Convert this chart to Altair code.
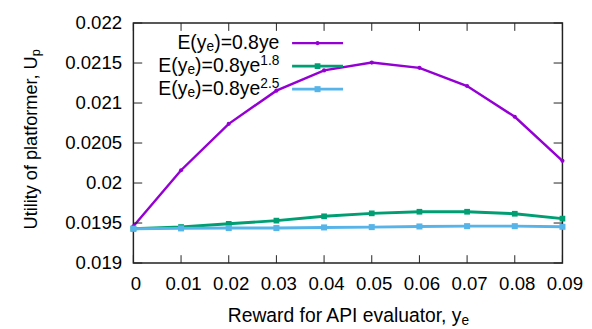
import altair as alt
import pandas as pd

# ---- data ----
x_vals = [0, 0.01, 0.02, 0.03, 0.04, 0.05, 0.06, 0.07, 0.08, 0.09]
u_linear = [0.01946, 0.02016, 0.02074, 0.021155, 0.021408, 0.021506, 0.02144, 0.021213, 0.020828, 0.020277]
u_pow18 = [0.019429, 0.01945, 0.01949, 0.01953, 0.019584, 0.019621, 0.019641, 0.019641, 0.019616, 0.019555]
u_pow25 = [0.019429, 0.019433, 0.019437, 0.019437, 0.019445, 0.019449, 0.019457, 0.019461, 0.019461, 0.019453]
series_names = ["0.8ye", "0.8ye^1.8", "0.8ye^2.5"]
series_colors = ["#9400D3", "#009E73", "#56B4E9"]
series_shapes = ["circle", "square", "square"]
series_sizes = [18, 34, 38]
series_widths = [2.5, 3, 3]
legend_sup = ["", "1.8", "2.5"]
x_ticks = [0, 0.01, 0.02, 0.03, 0.04, 0.05, 0.06, 0.07, 0.08, 0.09]
y_ticks = [0.019, 0.0195, 0.02, 0.0205, 0.021, 0.0215, 0.022]

W, H = 438, 245
FONT = "Liberation Sans"
FS = 19.8      # legend main text size
FSS = 14       # sub/superscript size

rows = []
for name, vals in zip(series_names, [u_linear, u_pow18, u_pow25]):
    for xv, yv in zip(x_vals, vals):
        rows.append({"series": name, "x": xv, "u": yv})
df = pd.DataFrame(rows)

xscale = alt.Scale(domain=[0, 0.09], nice=False, zero=False)
yscale = alt.Scale(domain=[0.019, 0.022], nice=False, zero=False)
axis_common = dict(ticks=False, domain=False, grid=False, labelFont=FONT,
                   labelFontSize=19, labelColor="#000", labelPadding=12,
                   labelFlush=False, labelOverlap=False, title=None)
x_axis = alt.Axis(values=x_ticks, format="~g", labelOffset=2, **axis_common)
y_axis = alt.Axis(values=y_ticks, format="~g", **axis_common)
x_enc = alt.X("x:Q", scale=xscale, axis=x_axis)
y_enc = alt.Y("u:Q", scale=yscale, axis=y_axis)

layers = []
for name, col, shp, sz, lw in zip(series_names, series_colors, series_shapes, series_sizes, series_widths):
    sub = alt.Chart(df).transform_filter(alt.datum.series == name)
    layers.append(sub.mark_line(color=col, strokeWidth=lw).encode(x=x_enc, y=y_enc))
    layers.append(sub.mark_point(color=col, shape=shp, filled=True, size=sz, opacity=1).encode(x=x_enc, y=y_enc))

# inward ticks on all four sides
xt = pd.DataFrame({"x": x_ticks})
yt = pd.DataFrame({"u": y_ticks})
tick_col = "#222"
layers.append(alt.Chart(yt).mark_rule(color=tick_col, strokeWidth=1).encode(
    y=y_enc, x=alt.value(0), x2=alt.value(9)))
layers.append(alt.Chart(yt).mark_rule(color=tick_col, strokeWidth=1).encode(
    y=y_enc, x=alt.value(W - 9), x2=alt.value(W)))
layers.append(alt.Chart(xt).mark_rule(color=tick_col, strokeWidth=1).encode(
    x=x_enc, y=alt.value(H), y2=alt.value(H - 8)))
layers.append(alt.Chart(xt).mark_rule(color=tick_col, strokeWidth=1).encode(
    x=x_enc, y=alt.value(0), y2=alt.value(8)))

one = pd.DataFrame({"a": [0]})


def txt(s, x, y, size, align="left", angle=0, dy=0, baseline="alphabetic"):
    kw = dict(font=FONT, fontSize=size, align=align, baseline=baseline, color="#000")
    if angle:
        kw["angle"] = angle
    if dy:
        kw["dy"] = dy
    return alt.Chart(one).mark_text(**kw).encode(
        x=alt.value(x), y=alt.value(y), text=alt.value(s))


# legend
R = 149
w_B = 3363 * FS / 1000
w_sub = 556 * FSS / 1000
baselines = [26, 49.5, 73]
for i, (col, sup, shp, sz, lw) in enumerate(zip(series_colors, legend_sup, series_shapes, series_sizes, series_widths)):
    by = baselines[i]
    w_sup = (1390 * FSS / 1000) if sup else 0
    if sup:
        layers.append(txt(sup, R, by - 7, FSS, align="right"))
    layers.append(txt(")=0.8ye", R - w_sup, by, FS, align="right"))
    layers.append(txt("e", R - w_sup - w_B, by + 3, FSS, align="right"))
    layers.append(txt("E(y", R - w_sup - w_B - w_sub, by, FS, align="right"))
    ly = by - 5.5
    layers.append(alt.Chart(one).mark_rule(color=col, strokeWidth=lw).encode(
        x=alt.value(162), x2=alt.value(214), y=alt.value(ly)))
    layers.append(alt.Chart(one).mark_point(color=col, shape=shp, filled=True, size=sz, opacity=1).encode(
        x=alt.value(188), y=alt.value(ly)))

# axis titles
XT = 19.7
split = 226 + 12227 * XT / 1000 - 132
layers.append(txt("Reward for API evaluator, y", split, 305, XT, align="right"))
layers.append(txt("e", split, 308.5, FSS, align="left"))
layers.append(txt("Utility of platformer, U", -98, 34, 18.5, align="right", angle=270))
layers.append(txt("p", -98, 34, 13, align="left", angle=270, dy=3))

chart = alt.layer(*layers).properties(
    width=W, height=H,
    autosize=alt.AutoSizeParams(type="none"),
    padding={"left": 128, "top": 12, "right": 22, "bottom": 64},
).configure_view(stroke="#222", strokeWidth=1.5)

chart.save("out.html", embed_options={"renderer": "svg", "actions": False})
